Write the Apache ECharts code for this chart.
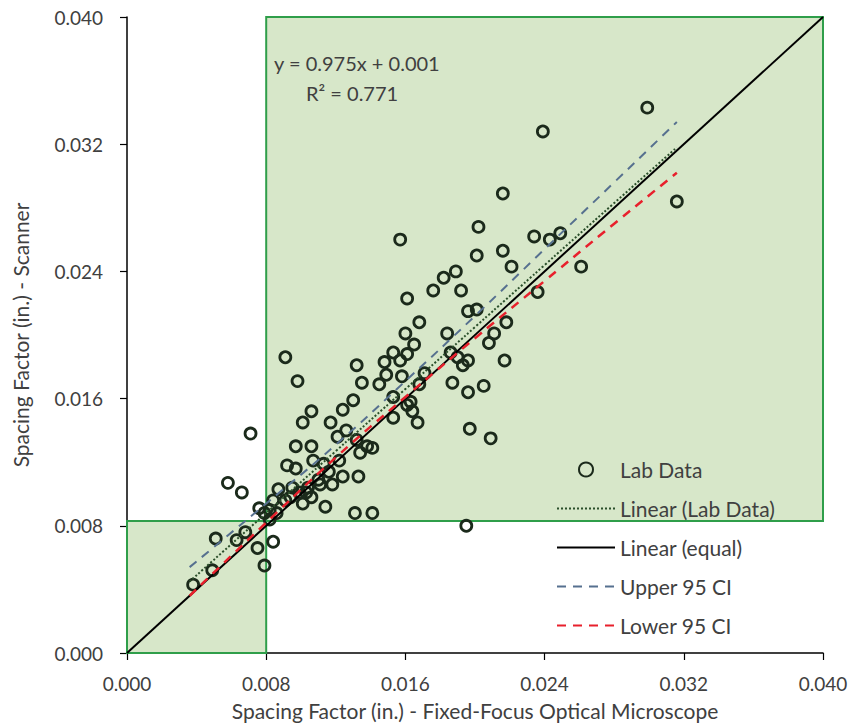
<!DOCTYPE html>
<html><head><meta charset="utf-8">
<script src="https://cdn.jsdelivr.net/npm/echarts@6/dist/echarts.min.js"></script>
<style>html,body{margin:0;padding:0;background:#fff}#c{width:854px;height:727px}</style>
</head><body><div id="c"></div>
<script>
// Lab data (x: optical microscope, y: scanner), inches
const labX = [0.0299,0.0239,0.0216,0.0316,0.0202,0.0157,0.0234,0.0243,0.0249,0.0201,0.0216,0.0221,0.0261,0.0236,0.0161,0.0176,0.0182,0.0189,0.0192,0.0168,0.0196,0.0201,0.0218,0.0211,0.0208,0.0184,0.0160,0.0165,0.0186,0.0193,0.0196,0.0190,0.0217,0.0187,0.0196,0.0205,0.0197,0.0209,0.0195,0.0153,0.0148,0.0157,0.0161,0.0132,0.0149,0.0158,0.0135,0.0145,0.0168,0.0171,0.0130,0.0124,0.0153,0.0163,0.0091,0.0098,0.0106,0.0101,0.0117,0.0126,0.0121,0.0132,0.0138,0.0141,0.0134,0.0097,0.0106,0.0153,0.0164,0.0161,0.0167,0.0107,0.0113,0.0122,0.0092,0.0097,0.0116,0.0124,0.0133,0.0110,0.0118,0.0104,0.0087,0.0095,0.0099,0.0106,0.0091,0.0101,0.0114,0.0084,0.0082,0.0131,0.0141,0.0079,0.0071,0.0084,0.0058,0.0066,0.0076,0.0051,0.0075,0.0079,0.0038,0.0049,0.0063,0.0068,0.0094,0.0103,0.0111,0.0086,0.0082];
const labY = [0.0343,0.0328,0.0289,0.0284,0.0268,0.0260,0.0262,0.0260,0.0264,0.0250,0.0253,0.0243,0.0243,0.0227,0.0223,0.0228,0.0236,0.0240,0.0228,0.0208,0.0215,0.0216,0.0208,0.0201,0.0195,0.0201,0.0201,0.0194,0.0189,0.0181,0.0184,0.0186,0.0184,0.0170,0.0164,0.0168,0.0141,0.0135,0.0080,0.0189,0.0183,0.0184,0.0188,0.0181,0.0175,0.0174,0.0170,0.0169,0.0169,0.0176,0.0159,0.0153,0.0161,0.0158,0.0186,0.0171,0.0152,0.0145,0.0145,0.0140,0.0136,0.0134,0.0130,0.0129,0.0126,0.0130,0.0130,0.0148,0.0152,0.0156,0.0145,0.0121,0.0119,0.0121,0.0118,0.0116,0.0114,0.0111,0.0111,0.0109,0.0106,0.0104,0.0103,0.0104,0.0101,0.0098,0.0096,0.0094,0.0092,0.0096,0.0090,0.0088,0.0088,0.0088,0.0138,0.0070,0.0107,0.0101,0.0091,0.0072,0.0066,0.0055,0.0043,0.0052,0.0071,0.0076,0.0098,0.0101,0.0106,0.0088,0.0084];
// Trend line and confidence bands
const lineX  = [0.0036,0.008,0.012,0.016,0.020,0.024,0.028,0.0316];
const fitY   = [0.0045,0.0088,0.0127,0.0166,0.0205,0.0244,0.0283,0.0318];
const upperY = [0.0054,0.0094,0.0131,0.0171,0.0212,0.0254,0.0296,0.0334];
const lowerY = [0.0036,0.0082,0.0123,0.0161,0.0198,0.0234,0.0270,0.0302];
const equalX = [0, 0.040];
const equalY = [0, 0.040];
// shaded regions [x0,y0,x1,y1]
const zoneBig = [0.008, 0.0083, 0.040, 0.040];
const zoneSmall = [0, 0, 0.008, 0.0083];
const ticks = [0, 0.008, 0.016, 0.024, 0.032, 0.040];
const eqText = 'y = 0.975x + 0.001';
const r2Text = 'R² = 0.771';

const font = 'Lato, "Open Sans", sans-serif';
const txt = '#404040';
const zip = (a,b) => a.map((v,i)=>[v,b[i]]);
const zone = z => [{xAxis:z[0], yAxis:z[1]}, {xAxis:z[2], yAxis:z[3]}];

const chart = echarts.init(document.getElementById('c'), null, {renderer:'svg'});
const axisCommon = {
  type:'value', min:ticks[0], max:ticks[ticks.length-1], interval:0.008,
  axisLine:{show:true, onZero:false, lineStyle:{color:'#000', width:1.5}},
  axisTick:{show:true, inside:false, length:7, lineStyle:{color:'#000', width:1.2}},
  splitLine:{show:false},
  axisLabel:{color:txt, fontFamily:font, fontSize:19, formatter:v=>v.toFixed(3)},
  nameLocation:'middle',
  nameTextStyle:{color:txt, fontFamily:font, fontSize:21}
};
const noDot = {opacity:0};
chart.setOption({
  animation:false,
  backgroundColor:'#fff',
  grid:{left:127, right:31, top:17, bottom:74, containLabel:false},
  xAxis:Object.assign({}, axisCommon, {name:'Spacing Factor (in.) - Fixed-Focus Optical Microscope', nameGap:47,
    axisLabel:Object.assign({}, axisCommon.axisLabel, {margin:21})}),
  yAxis:Object.assign({}, axisCommon, {name:'Spacing Factor (in.) - Scanner', nameGap:96,
    axisLabel:Object.assign({}, axisCommon.axisLabel, {margin:24})}),
  legend:{
    orient:'vertical', left:551, top:454, itemWidth:58, itemHeight:14, itemGap:18,
    textStyle:{color:txt, fontFamily:font, fontSize:21},
    data:[
      {name:'Lab Data'},
      {name:'Linear (Lab Data)', itemStyle:noDot},
      {name:'Linear (equal)', itemStyle:noDot},
      {name:'Upper 95 CI', itemStyle:noDot},
      {name:'Lower 95 CI', itemStyle:noDot}
    ]
  },
  graphic:[
    {type:'text', z:100, left:274, top:53, style:{text:eqText, fill:txt, fontFamily:font, fontSize:20}},
    {type:'text', z:100, left:306, top:83, style:{text:r2Text, fill:txt, fontFamily:font, fontSize:20}}
  ],
  series:[
    {name:'Lab Data', type:'scatter', data:zip(labX,labY), symbol:'circle', symbolSize:11,
     itemStyle:{color:'rgba(0,0,0,0)', borderColor:'#1b2a1b', borderWidth:2.8, opacity:1},
     markArea:{silent:true, itemStyle:{color:'#d7e7c9', borderColor:'#2f9e4a', borderWidth:2},
       data:[zone(zoneBig), zone(zoneSmall)]},
     z:2},
    {name:'Linear (Lab Data)', type:'line', data:zip(lineX,fitY), symbol:'none', smooth:true,
     lineStyle:{color:'#2b4f2b', width:2, type:[2,2]}, z:4},
    {name:'Linear (equal)', type:'line', data:zip(equalX,equalY), symbol:'none',
     lineStyle:{color:'#000', width:2}, z:5},
    {name:'Upper 95 CI', type:'line', data:zip(lineX,upperY), symbol:'none', smooth:true,
     lineStyle:{color:'#56708f', width:2, type:[9,7]}, z:4},
    {name:'Lower 95 CI', type:'line', data:zip(lineX,lowerY), symbol:'none', smooth:true,
     lineStyle:{color:'#e8202c', width:2.5, type:[9,7]}, z:6}
  ]
});
</script></body></html>
